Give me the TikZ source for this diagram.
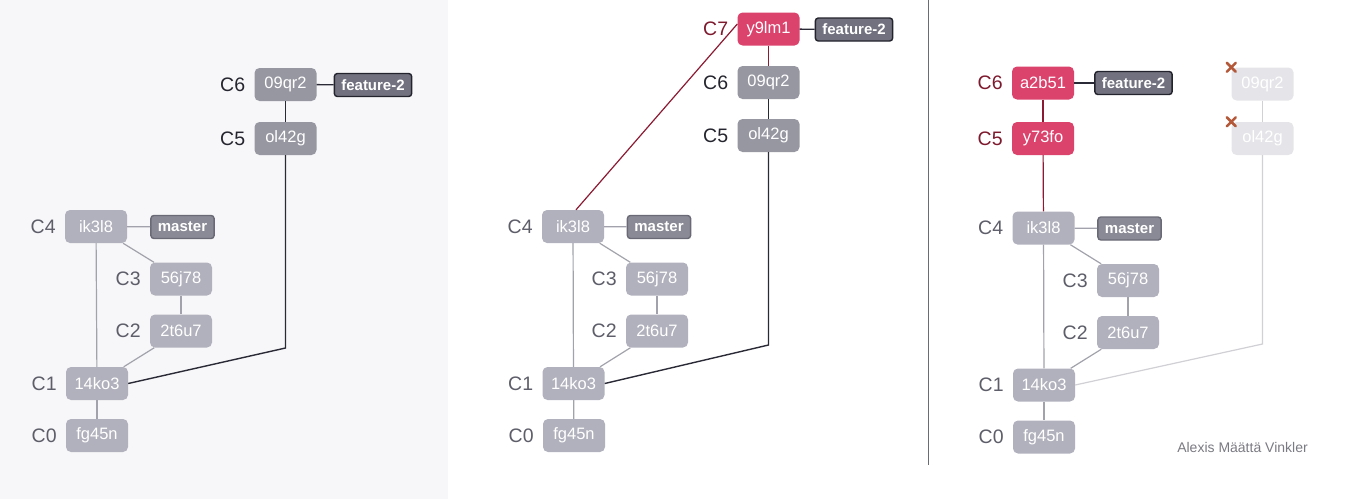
\documentclass[tikz,border=0pt]{standalone}
\usepackage{fontspec}
\setmainfont{Liberation Sans}
\definecolor{bgpanel}{HTML}{F7F7F9}
\definecolor{boxlow}{HTML}{B1B1BD}
\definecolor{boxhigh}{HTML}{9797A2}
\definecolor{boxred}{HTML}{DB426C}
\definecolor{boxfade}{HTML}{E5E5E9}
\definecolor{tagmaster}{HTML}{8A8A96}
\definecolor{tagmasterb}{HTML}{6A6A76}
\definecolor{tagfeat}{HTML}{71717F}
\definecolor{tagfeatb}{HTML}{23232D}
\definecolor{labgray}{HTML}{5E5E6A}
\definecolor{labdark}{HTML}{25252F}
\definecolor{labred}{HTML}{7E1A2E}
\definecolor{linegray}{HTML}{A2A2AC}
\definecolor{linedark}{HTML}{2A2A36}
\definecolor{linered}{HTML}{8B1A32}
\definecolor{linefade}{HTML}{D0D0D5}
\definecolor{xcol}{HTML}{B4583A}
\definecolor{divcol}{HTML}{6B6B75}
\definecolor{authcol}{HTML}{7A7A82}
\newcommand\mycfont{\fontsize{16.5}{16.5}\selectfont}
\newcommand\mytfont{\fontsize{15}{15}\selectfont\bfseries}
\newcommand\mylfont{\fontsize{19.5}{19.5}\selectfont}
\begin{document}
\begin{tikzpicture}[x=1pt,y=-1pt,
  commit/.style={rounded corners=5pt, minimum width=62pt, minimum height=33pt, inner sep=0pt, text=white, font=\mycfont},
  clow/.style={commit, fill=boxlow},
  chigh/.style={commit, fill=boxhigh},
  cred/.style={commit, fill=boxred},
  cfade/.style={commit, fill=boxfade},
  tagbox/.style={rounded corners=3pt, draw, line width=1.4pt, minimum height=23pt, inner xsep=7pt, inner ysep=0pt, text=white, font=\mytfont},
  mastertag/.style={tagbox, fill=tagmaster, draw=tagmasterb},
  feattag/.style={tagbox, fill=tagfeat, draw=tagfeatb},
  clab/.style={font=\mylfont, inner sep=0pt, anchor=east, text=labgray},
  clabdark/.style={clab, text=labdark},
  clabred/.style={clab, text=labred},
  lgray/.style={draw=linegray, line width=1.2pt},
  ldark/.style={draw=linedark, line width=1.4pt},
  lred/.style={draw=linered, line width=1.2pt},
  lfade/.style={draw=linefade, line width=1.2pt},
  xmark/.style={draw=xcol, line width=2.6pt, line cap=round},
]
\useasboundingbox (0,0) rectangle (1348,499);
\fill[bgpanel] (0,0) rectangle (448,499);
\draw[divcol, line width=1pt] (928.5,0) -- (928.5,465);

% ---------- Panel 1 ----------
\node[chigh] (a6) at (285.5,84.5) {09qr2};
\node[feattag] (af) at (373,85) {feature-2};
\node[chigh] (a5) at (285.5,138.5) {ol42g};
\node[clow] (a4) at (96,226.5) {ik3l8};
\node[mastertag] (am) at (182.5,227) {master};
\node[clow] (a3) at (181,279) {56j78};
\node[clow] (a2) at (181,331) {2t6u7};
\node[clow] (a1) at (97,383.5) {14ko3};
\node[clow] (a0) at (97,435.5) {fg45n};
\coordinate (ak) at (285.5,348);
\node[clabdark] (la6) at ([xshift=-9pt]a6.west) {C6};
\node[clabdark] (la5) at ([xshift=-9pt]a5.west) {C5};
\node[clab] (la4) at ([xshift=-9pt]a4.west) {C4};
\node[clab] (la3) at ([xshift=-9pt]a3.west) {C3};
\node[clab] (la2) at ([xshift=-9pt]a2.west) {C2};
\node[clab] (la1) at ([xshift=-9pt]a1.west) {C1};
\node[clab] (la0) at ([xshift=-9pt]a0.west) {C0};
\draw[ldark] (a6) -- (af);
\draw[ldark] (a6) -- (a5);
\draw[ldark] (a5) -- (ak) -- (a1.east);
\draw[lgray] (a4) -- (am);
\draw[lgray] (a4) -- (a1);
\draw[lgray] (a4) -- (a3);
\draw[lgray] (a3) -- (a2);
\draw[lgray] (a2) -- (a1);
\draw[lgray] (a1) -- (a0);

% ---------- Panel 2 ----------
\node[cred] (b7) at (768.5,29) {y9lm1};
\node[feattag] (bf) at (854,29.5) {feature-2};
\node[chigh] (b6) at (768.5,82.5) {09qr2};
\node[chigh] (b5) at (768.5,135.5) {ol42g};
\node[clow] (b4) at (573,226.5) {ik3l8};
\node[mastertag] (bm) at (659,227) {master};
\node[clow] (b3) at (657,279) {56j78};
\node[clow] (b2) at (657,331) {2t6u7};
\node[clow] (b1) at (573.5,383.5) {14ko3};
\node[clow] (b0) at (574,435.5) {fg45n};
\coordinate (bk) at (768.5,345);
\node[clabred] (lb7) at ([xshift=-9pt]b7.west) {C7};
\node[clabdark] (lb6) at ([xshift=-9pt]b6.west) {C6};
\node[clabdark] (lb5) at ([xshift=-9pt]b5.west) {C5};
\node[clab] (lb4) at ([xshift=-9pt]b4.west) {C4};
\node[clab] (lb3) at ([xshift=-9pt]b3.west) {C3};
\node[clab] (lb2) at ([xshift=-9pt]b2.west) {C2};
\node[clab] (lb1) at ([xshift=-9pt]b1.west) {C1};
\node[clab] (lb0) at ([xshift=-9pt]b0.west) {C0};
\draw[ldark] (b7) -- (bf);
\draw[lred] (b7) -- (b6);
\draw[ldark] (b6) -- (b5);
\draw[ldark] (b5) -- (bk) -- (b1.east);
\draw[lred] ([xshift=3pt]b4.north) -- ([yshift=5pt]b7.west);
\draw[lgray] (b4) -- (bm);
\draw[lgray] (b4) -- (b1);
\draw[lgray] (b4) -- (b3);
\draw[lgray] (b3) -- (b2);
\draw[lgray] (b2) -- (b1);
\draw[lgray] (b1) -- (b0);

% ---------- Panel 3 ----------
\node[cred] (c6) at (1043,83) {a2b51};
\node[feattag] (cf) at (1133.5,83) {feature-2};
\node[cred] (c5) at (1043,138.5) {y73fo};
\node[cfade] (d6) at (1262.5,84) {09qr2};
\node[cfade] (d5) at (1262.5,138.5) {ol42g};
\node[clow] (c4) at (1043.5,228) {ik3l8};
\node[mastertag] (cm) at (1129.5,228.5) {master};
\node[clow] (c3) at (1128,280.5) {56j78};
\node[clow] (c2) at (1128,332.5) {2t6u7};
\node[clow] (c1) at (1044,385) {14ko3};
\node[clow] (c0) at (1044,437) {fg45n};
\coordinate (dk) at (1262.5,344);
\node[clabred] (lc6) at ([xshift=-9pt]c6.west) {C6};
\node[clabred] (lc5) at ([xshift=-9pt]c5.west) {C5};
\node[clab] (lc4) at ([xshift=-9pt]c4.west) {C4};
\node[clab] (lc3) at ([xshift=-9pt]c3.west) {C3};
\node[clab] (lc2) at ([xshift=-9pt]c2.west) {C2};
\node[clab] (lc1) at ([xshift=-9pt]c1.west) {C1};
\node[clab] (lc0) at ([xshift=-9pt]c0.west) {C0};
\draw[ldark] (c6) -- (cf);
\draw[lred] (c6) -- (c5);
\draw[lred] (c5) -- (c4);
\draw[lfade] (d6) -- (d5);
\draw[lfade] (d5) -- (dk) -- (c1.east);
\draw[lgray] (c4) -- (cm);
\draw[lgray] (c4) -- (c1);
\draw[lgray] (c4) -- (c3);
\draw[lgray] (c3) -- (c2);
\draw[lgray] (c2) -- (c1);
\draw[lgray] (c1) -- (c0);
% X marks on dropped commits
\draw[xmark] ([shift={(-4.5,-4.5)}]d6.north west) -- ++(9,9) ++(-9,0) -- ++(9,-9);
\draw[xmark] ([shift={(-4.5,-4.5)}]d5.north west) -- ++(9,9) ++(-9,0) -- ++(9,-9);

\node[font=\fontsize{14}{14}\selectfont, text=authcol, inner sep=0pt] (author) at (1242.5,447.5) {Alexis Määttä Vinkler};
\end{tikzpicture}
\end{document}
